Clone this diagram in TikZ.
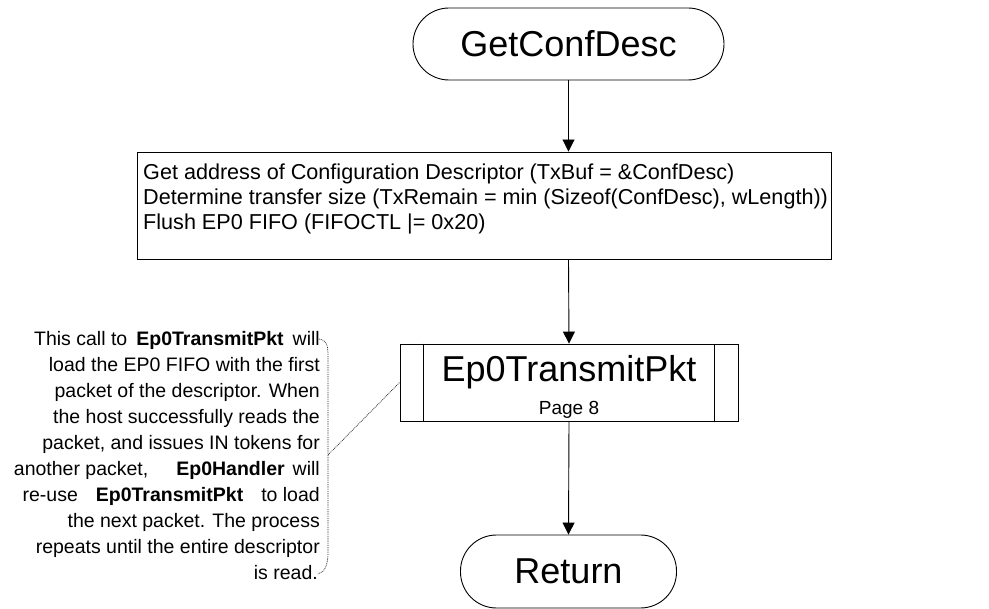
\documentclass[tikz,border=0pt]{standalone}
\usepackage{fontspec}
\setmainfont{Liberation Sans}
\usetikzlibrary{arrows.meta}
\begin{document}
\begin{tikzpicture}[x=1pt,y=-1pt,
  shapeline/.style={draw=black,line width=0.9pt},
  term/.style={shapeline,rounded corners=36pt,inner sep=0pt,font=\fontsize{36}{40}\selectfont},
  procbox/.style={shapeline,inner sep=0pt},
  arr/.style={line width=0.9pt,-{Triangle[length=12pt,width=12pt]}},
  dotline/.style={line width=0.7pt,dash pattern=on 0.9pt off 0.9pt,black!85}
]
\useasboundingbox (0,0) rectangle (989,609);

% start terminator
\node[term,minimum width=311pt,minimum height=72pt] (start) at (568.5,44) {GetConfDesc};

% process box
\node[procbox,minimum width=694pt,minimum height=107pt] (proc) at (484,205.5) {};
\node[anchor=north west,align=left,inner sep=0pt,font=\fontsize{21.6}{25}\selectfont] (proctext) at (143,164)
 {Get address of Configuration Descriptor (TxBuf = \&ConfDesc)\\
  Determine transfer size (TxRemain = min (Sizeof(ConfDesc), wLength))\\
  Flush EP0 FIFO (FIFOCTL |= 0x20)};

% predefined process
\node[procbox,minimum width=338pt,minimum height=77pt] (pre) at (569,382.5) {};
\draw[shapeline] ([xshift=24pt]pre.north west) -- ([xshift=24pt]pre.south west);
\draw[shapeline] ([xshift=-24pt]pre.north east) -- ([xshift=-24pt]pre.south east);
\node[anchor=base,inner sep=0pt,font=\fontsize{36}{40}\selectfont] (pretitle) at (569,382) {Ep0TransmitPkt};
\node[anchor=base,inner sep=0pt,font=\fontsize{19}{21}\selectfont] (prepage) at (569,415) {Page 8};

% return terminator
\node[term,minimum width=216pt,minimum height=73pt] (ret) at (568.5,571.5) {Return};

% connectors
\draw[arr] (start.south) -- (start.south |- proc.north);
\draw[arr] (start.south |- proc.south) -- (pre.north);
\draw[arr] (pre.south) -- (ret.north);

% annotation
\node[anchor=north east,align=right,inner sep=0pt,font=\fontsize{19.5}{26}\selectfont] (note) at (320,331)
 {This call to\hspace{9pt}\textbf{Ep0TransmitPkt}\hspace{9pt}will\\
  load the EP0 FIFO with the first\hspace*{8pt}\\
  packet of the descriptor. When\hspace*{8pt}\\
  the host successfully reads the\hspace*{10pt}\\
  packet, and issues IN tokens for\hspace*{10pt}\\
  another packet,\hspace{28pt}\textbf{Ep0Handler}\hspace{8pt}will\hspace*{2pt}\\
  re-use\hspace{18pt}\textbf{Ep0TransmitPkt}\hspace{18pt}to load\hspace*{2pt}\\
  the next packet. The process\hspace*{10pt}\\
  repeats until the entire descriptor\hspace*{8pt}\\
  is read.\hspace*{2pt}};

% brace and leader
\coordinate (bracetop) at (319,339);
\coordinate (bracemid) at (328,455);
\coordinate (bracebot) at (318,574);
\draw[dotline] (bracetop) .. controls (327,340) and (328,346) .. (328,356)
  -- (bracemid) -- (328,552) .. controls (328,565) and (325,572) .. (bracebot);
\draw[dotline] (bracemid) -- (pre.west);
\end{tikzpicture}
\end{document}
